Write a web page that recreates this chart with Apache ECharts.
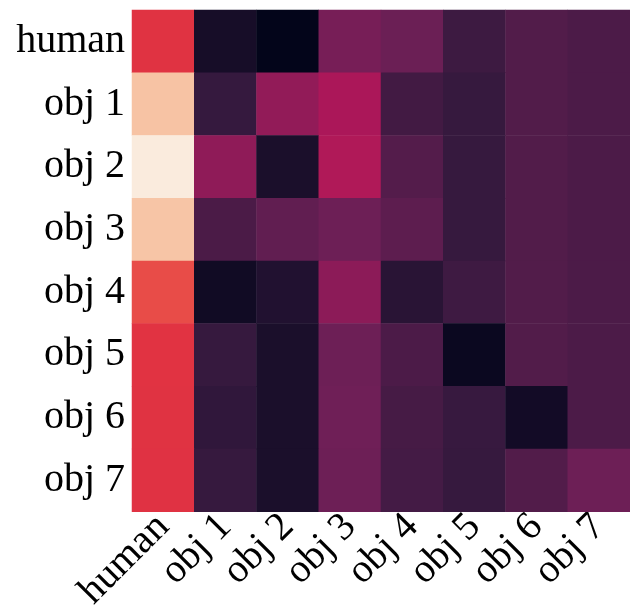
<!DOCTYPE html>
<html>
<head>
<meta charset="utf-8">
<script src="https://cdn.jsdelivr.net/npm/echarts@6/dist/echarts.min.js"></script>
<style>
  html, body { margin: 0; padding: 0; background: #ffffff; }
  #chart { width: 630px; height: 614px; }
</style>
</head>
<body>
<div id="chart"></div>
<script>
// Category labels shared by both axes
const labels = ['human', 'obj 1', 'obj 2', 'obj 3', 'obj 4', 'obj 5', 'obj 6', 'obj 7'];

// One row of similarity values per agent (columns follow `labels`)
const rowHuman = [0.570, 0.057, 0.000, 0.302, 0.274, 0.162, 0.213, 0.199];
const rowObj1  = [0.896, 0.143, 0.366, 0.424, 0.174, 0.145, 0.213, 0.199];
const rowObj2  = [1.000, 0.359, 0.069, 0.437, 0.218, 0.145, 0.213, 0.199];
const rowObj3  = [0.900, 0.196, 0.250, 0.278, 0.240, 0.145, 0.213, 0.199];
const rowObj4  = [0.625, 0.040, 0.086, 0.351, 0.109, 0.164, 0.213, 0.199];
const rowObj5  = [0.571, 0.145, 0.069, 0.278, 0.199, 0.023, 0.213, 0.199];
const rowObj6  = [0.570, 0.129, 0.069, 0.284, 0.184, 0.147, 0.046, 0.199];
const rowObj7  = [0.568, 0.145, 0.069, 0.278, 0.180, 0.145, 0.213, 0.278];

const rows = [rowHuman, rowObj1, rowObj2, rowObj3, rowObj4, rowObj5, rowObj6, rowObj7];

// "rocket" colour ramp, evenly spaced stops from 0 to 1
const rocket = ['#03051a', '#35193e', '#701f57', '#ad1759', '#e13342', '#f37651', '#f6b48f', '#faebdd'];

const cells = [];
rows.forEach((row, r) => {
  row.forEach((v, c) => cells.push([c, r, v]));
});

const fontFamily = '"Liberation Serif", "Times New Roman", serif';

const chart = echarts.init(document.getElementById('chart'), null, { renderer: 'canvas' });
chart.setOption({
  backgroundColor: '#ffffff',
  animation: false,
  grid: { left: 132, top: 10, width: 504, height: 504, containLabel: false },
  xAxis: {
    type: 'category',
    data: labels,
    axisLine: { show: false },
    axisTick: { show: false },
    splitLine: { show: false },
    axisLabel: {
      rotate: 45,
      interval: 0,
      margin: 9,
      color: '#000000',
      fontFamily: fontFamily,
      fontSize: 40
    }
  },
  yAxis: {
    type: 'category',
    data: labels,
    inverse: true,
    axisLine: { show: false },
    axisTick: { show: false },
    splitLine: { show: false },
    axisLabel: {
      interval: 0,
      margin: 7,
      color: '#000000',
      fontFamily: fontFamily,
      fontSize: 40
    }
  },
  visualMap: {
    show: false,
    type: 'continuous',
    min: 0,
    max: 1,
    dimension: 2,
    inRange: { color: rocket }
  },
  series: [{
    type: 'heatmap',
    data: cells,
    itemStyle: { borderWidth: 0 },
    emphasis: { disabled: true }
  }]
});
</script>
</body>
</html>
